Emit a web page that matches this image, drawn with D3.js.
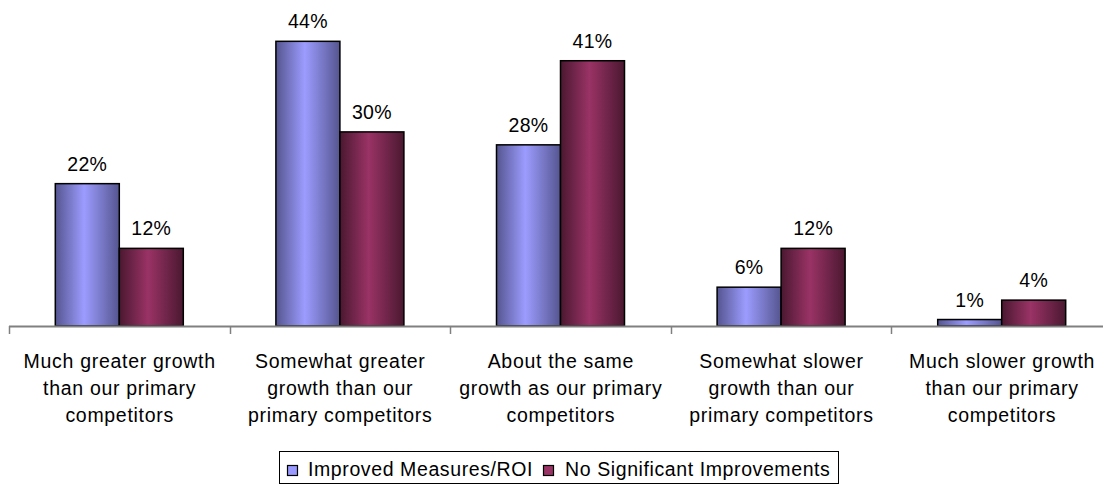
<!DOCTYPE html>
<html><head><meta charset="utf-8">
<script src="https://cdn.jsdelivr.net/npm/d3@7"></script>
<style>body{margin:0;background:#fff}svg{display:block}</style>
</head><body>
<svg id="c" width="1103" height="485"></svg>
<script>
const categories = [
  ["Much greater growth","than our primary","competitors"],
  ["Somewhat greater","growth than our","primary competitors"],
  ["About the same","growth as our primary","competitors"],
  ["Somewhat slower","growth than our","primary competitors"],
  ["Much slower growth","than our primary","competitors"]
];
const seriesNames = ["Improved Measures/ROI","No Significant Improvements"];
const improved = [22,44,28,6,1];
const noImprove = [12,30,41,12,4];

const svg = d3.select("#c");
const font = "'Liberation Sans', Arial, sans-serif";
const x0 = 9, catW = 220.6;
const x = d3.scaleBand().domain(d3.range(5)).range([x0, x0+catW*5]).paddingInner(0).paddingOuter(0);
const y = d3.scaleLinear().domain([0,50]).range([326, 2.5]);
const barW = 64;

const defs = svg.append("defs");
function grad(id, edge, mid){
  const g = defs.append("linearGradient").attr("id",id).attr("x1","0").attr("x2","1").attr("y1","0").attr("y2","0");
  g.append("stop").attr("offset","0%").attr("stop-color",edge);
  g.append("stop").attr("offset","45%").attr("stop-color",mid);
  g.append("stop").attr("offset","100%").attr("stop-color",edge);
}
grad("gb","#555590","#9c9cff");
grad("gr","#4a1830","#9a3366");

const series = [{vals:improved, fill:"url(#gb)", sw:"#9999ff", off:-barW},{vals:noImprove, fill:"url(#gr)", sw:"#993366", off:0}];

series.forEach(s=>{
  const g = svg.append("g");
  g.selectAll("rect").data(s.vals).join("rect")
    .attr("x",(d,i)=>x(i)+x.bandwidth()/2+s.off)
    .attr("y",d=>y(d))
    .attr("width",barW)
    .attr("height",d=>y(0)-y(d))
    .attr("fill",s.fill).attr("stroke","#000").attr("stroke-width",1.5);
  g.selectAll("text").data(s.vals).join("text")
    .attr("x",(d,i)=>x(i)+x.bandwidth()/2+s.off+barW/2)
    .attr("y",d=>y(d)-13)
    .attr("text-anchor","middle")
    .attr("font-family",font).attr("font-size",19.5).attr("letter-spacing",0.3).attr("fill","#000")
    .text(d=>d+"%");
});

// axis
const ax = svg.append("g");
ax.append("line").attr("x1",x0).attr("x2",1103).attr("y1",326.5).attr("y2",326.5).attr("stroke","#808080").attr("stroke-width",2);
ax.selectAll("line.t").data(d3.range(6)).join("line").attr("class","t")
  .attr("x1",i=>Math.round(x0+catW*i)+0.5).attr("x2",i=>Math.round(x0+catW*i)+0.5)
  .attr("y1",326).attr("y2",334).attr("stroke","#808080").attr("stroke-width",1.5);

const lab = svg.append("g");
categories.forEach((lines,i)=>{
  const t = lab.append("text").attr("text-anchor","middle")
    .attr("font-family",font).attr("font-size",19.5).attr("letter-spacing",0.7).attr("fill","#000");
  lines.forEach((l,j)=>{
    t.append("tspan").attr("x",x(i)+x.bandwidth()/2+0.35).attr("y",368+j*27).text(l);
  });
});

// legend
const lg = svg.append("g");
lg.append("rect").attr("x",279.5).attr("y",451.5).attr("width",559).attr("height",32).attr("fill","#fff").attr("stroke","#000").attr("stroke-width",1);
const items = [{n:seriesNames[0],c:"#9999ff",x:287,tx:308},{n:seriesNames[1],c:"#993366",x:543,tx:565}];
items.forEach(it=>{
  lg.append("rect").attr("x",it.x+0.5).attr("y",465.5).attr("width",10).attr("height",10).attr("fill",it.c).attr("stroke","#000").attr("stroke-width",1.2);
  lg.append("text").attr("x",it.tx).attr("y",476).attr("font-family",font).attr("font-size",19.5).attr("letter-spacing",0.6).text(it.n);
});
</script>
</body></html>
